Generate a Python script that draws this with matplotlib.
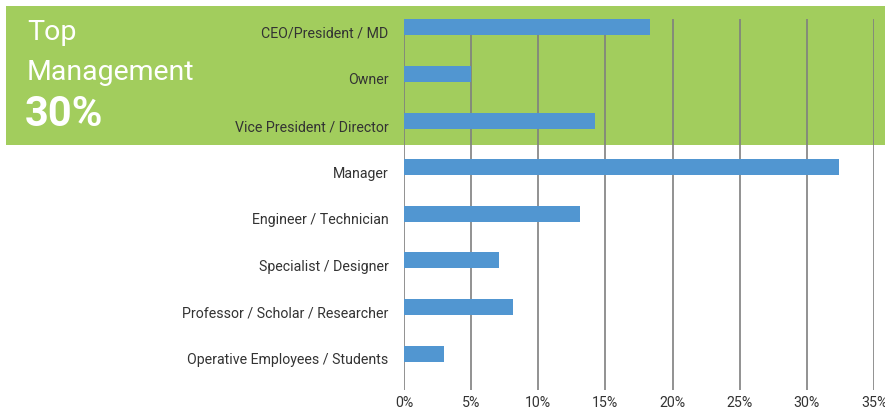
import matplotlib
matplotlib.use("Agg")
import matplotlib.pyplot as plt
import matplotlib.transforms as mtransforms
from matplotlib.patches import Rectangle

categories = ["CEO/President / MD", "Owner", "Vice President / Director", "Manager",
              "Engineer / Technician", "Specialist / Designer",
              "Professor / Scholar / Researcher", "Operative Employees / Students"]
values = [18.3, 5.0, 14.2, 32.4, 13.1, 7.1, 8.1, 3.0]
xticks = [0, 5, 10, 15, 20, 25, 30, 35]
xticklabels = ["0%", "5%", "10%", "15%", "20%", "25%", "30%", "35%"]

plt.rcParams['font.family'] = ['Roboto', 'DejaVu Sans']

W, H = 885, 413
fig = plt.figure(figsize=(W/100, H/100), dpi=100)
fig.patch.set_facecolor("white")
green = "#A2CD5D"
fig.patches.append(Rectangle((6/W, (H-145)/H), (W-6)/W, 139/H, transform=fig.transFigure,
                             facecolor=green, edgecolor="none", zorder=-5))

ax = fig.add_axes([404/W, 23/H, (874-404)/W, (390-19)/H])
ax.set_zorder(1)
ax.patch.set_alpha(0)
ax.barh(range(len(categories)), values, height=0.343, color="#5196D1", zorder=3)
ax.set_xlim(0, 35)
ax.set_ylim(7.78, -0.178)
ax.set_xticks(xticks)
ax.set_xticklabels(xticklabels)
ax.set_yticks(range(len(categories)))
ax.set_yticklabels(categories)
for s in ax.spines.values():
    s.set_visible(False)
ax.xaxis.grid(True, color="#7F7F7F", linewidth=1.2, zorder=1)
ax.set_axisbelow(True)
ax.tick_params(axis="both", length=0, labelsize=10.2, labelcolor="#333333")
ax.tick_params(axis="x", pad=4.5)
ax.tick_params(axis="y", pad=11)
offset = mtransforms.ScaledTranslation(0, -5/100, fig.dpi_scale_trans)
for lbl in ax.get_yticklabels():
    lbl.set_transform(lbl.get_transform() + offset)

fig.text(27/W, 1-32/H, "Top", color="white", fontsize=20.5, va="center", ha="left")
fig.text(27/W, 1-72/H, "Management", color="white", fontsize=20.5, va="center", ha="left")
fig.text(25/W, 1-114/H, "30%", color="white", fontsize=30, fontweight="bold", va="center", ha="left")

fig.savefig("out.png", dpi=100)
